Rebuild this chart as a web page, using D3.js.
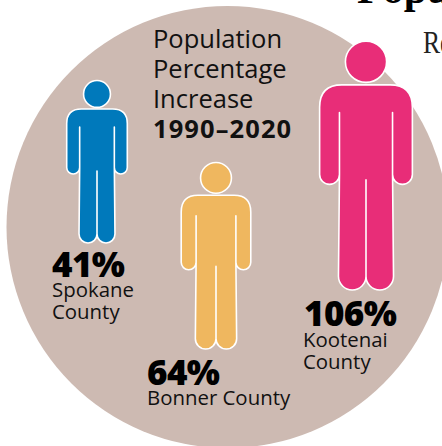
<!DOCTYPE html>
<html><head><meta charset="utf-8">
<script src="https://cdn.jsdelivr.net/npm/d3@7"></script>
<style>html,body{margin:0;padding:0;background:#fff;overflow:hidden}svg{display:block}</style>
</head><body><svg id="c" width="442" height="446"></svg>
<script>
const counties = ["Spokane", "Bonner", "Kootenai"];
const increases = [41, 64, 106];
const colors = ["#0079bb", "#efb75f", "#e82d78"];
const nameLines = [["Spokane", "County"], ["Bonner County"], ["Kootenai", "County"]];
const titleLines = ["Population", "Percentage", "Increase"];
const titleYears = "1990–2020";

const svg = d3.select("#c");
const font = "'Open Sans', sans-serif";
const heightScale = d3.scaleLinear().domain(increases).range([162, 186, 248]);
const centerX = d3.scaleOrdinal().domain(counties).range([97, 216, 366]);
const topY = d3.scaleOrdinal().domain(counties).range([81, 163, 42]);
const labelX = d3.scaleOrdinal().domain(counties).range([52, 147, 304]);
const labelY = d3.scaleOrdinal().domain(counties).range([277, 385, 326]);

svg.append("circle").attr("cx", 227.5).attr("cy", 227).attr("r", 221).attr("fill", "#cdbab2");

svg.append("text").attr("x", 357).attr("y", 3).attr("font-family", "'Liberation Serif', serif")
  .attr("font-weight", 700).attr("font-size", 42).text("Population");
svg.append("text").attr("transform", "translate(423,53) scale(0.8,1)").attr("font-family", "'Liberation Serif', serif")
  .attr("font-size", 32).attr("fill", "#222").text("Re");

function bodyPath(h) {
  const w = .187*h, a = .08*h, l = .111*h, top = .173*h, arm = .284*h, armB = .574*h, crotch = .556*h, b = h;
  const s = .09*h, ar = a/2, lr = l/2;
  const p = d3.path();
  p.moveTo(-w+s, top);
  p.lineTo(w-s, top);
  p.quadraticCurveTo(w, top, w, top+s);
  p.lineTo(w, armB-ar);
  p.arc(w-ar, armB-ar, ar, 0, Math.PI);
  p.lineTo(w-a, arm);
  p.lineTo(w-a, armB-ar);
  p.lineTo(l, b-lr);
  p.arc(lr, b-lr, lr, 0, Math.PI);
  p.lineTo(0, crotch);
  p.lineTo(0, b-lr);
  p.arc(-lr, b-lr, lr, 0, Math.PI);
  p.lineTo(-w+a, armB-ar);
  p.lineTo(-w+a, arm);
  p.lineTo(-w+a, armB-ar);
  p.arc(-w+ar, armB-ar, ar, 0, Math.PI);
  p.lineTo(-w, top+s);
  p.quadraticCurveTo(-w, top, -w+s, top);
  p.closePath();
  return p.toString();
}

const g = svg.selectAll("g.person").data(counties).join("g").attr("class", "person")
  .attr("transform", d => `translate(${centerX(d)},${topY(d)})`);
g.append("path")
  .attr("d", (d,i) => bodyPath(heightScale(increases[i])))
  .attr("fill", (d,i) => colors[i]).attr("stroke", "#fff").attr("stroke-width", 1.6).attr("stroke-linejoin", "round");
g.append("circle")
  .attr("cy", (d,i) => .08*heightScale(increases[i]))
  .attr("r", (d,i) => .083*heightScale(increases[i]))
  .attr("fill", (d,i) => colors[i]).attr("stroke", "#fff").attr("stroke-width", 1.6);

const title = svg.append("g").attr("font-family", font).attr("font-size", 25.5).attr("fill", "#111");
titleLines.forEach((t,i) => title.append("text").attr("x", 153).attr("y", 48 + i*30).text(t));
title.append("text").attr("x", 153).attr("y", 138).attr("font-weight", 700).attr("letter-spacing", 1.1).text(titleYears);

const labels = svg.selectAll("g.label").data(counties).join("g").attr("class", "label")
  .attr("font-family", font).attr("fill", "#000");
labels.append("text").attr("x", labelX).attr("y", labelY)
  .attr("font-weight", 800).attr("font-size", 35).attr("letter-spacing", -0.6)
  .text((d,i) => increases[i] + "%");
labels.each(function(d,i) {
  nameLines[i].forEach((t,j) => d3.select(this).append("text")
    .attr("x", labelX(d) - (i === 2 ? 1 : 0)).attr("y", labelY(d) + 20 + j*22 + (i === 2 ? 0.5 : 0))
    .attr("font-size", 20.4).attr("fill", "#111").text(t));
});
</script></body></html>
